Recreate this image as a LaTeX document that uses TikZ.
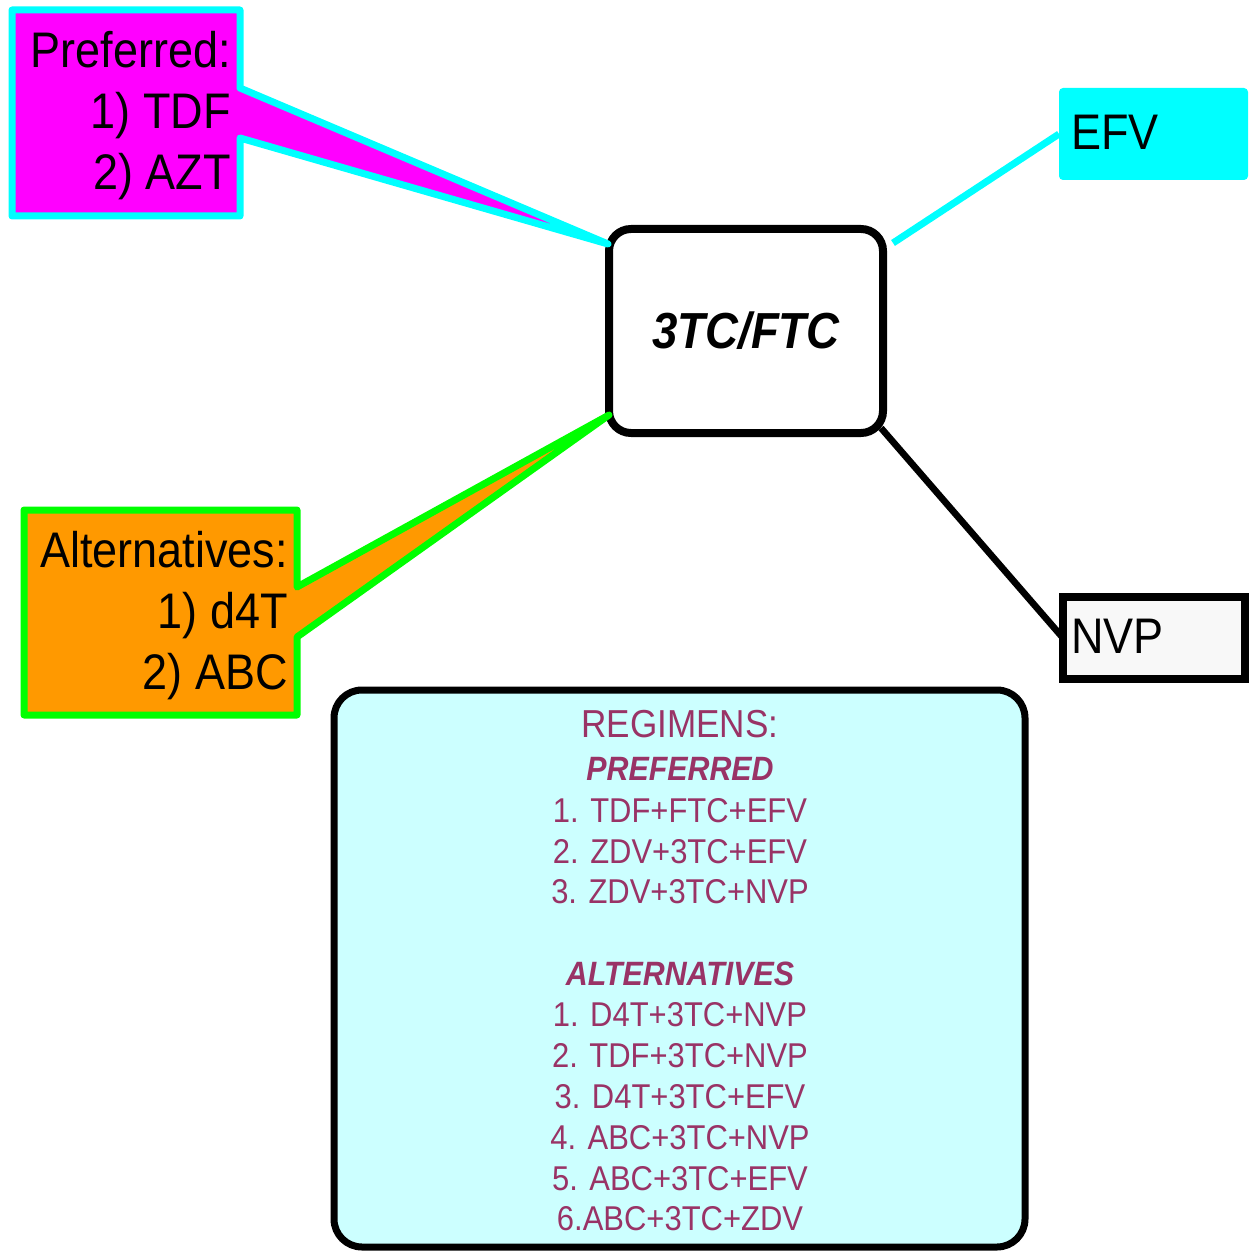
\documentclass[tikz,border=0pt]{standalone}
\usepackage{fontspec}
\setmainfont[FakeStretch=0.9]{Liberation Sans}
\usetikzlibrary{calc}
\definecolor{cMag}{HTML}{FF00FF}
\definecolor{cCyan}{HTML}{00FFFF}
\definecolor{cGreen}{HTML}{00FF00}
\definecolor{cOrange}{HTML}{FF9900}
\definecolor{cReg}{HTML}{CCFFFF}
\definecolor{cText}{HTML}{993366}
\definecolor{cNvp}{HTML}{F8F8F8}
\begin{document}
\begin{tikzpicture}[x=0.75pt,y=-0.75pt,
  hubbox/.style={draw=black, line width=6pt, fill=white, rounded corners=16.5pt,
    minimum width=205.5pt, minimum height=153pt, inner sep=0pt, outer sep=0pt,
    font=\fontsize{38}{44}\selectfont\bfseries\itshape},
  efvbox/.style={fill=cCyan, rounded corners=3pt, minimum width=141.75pt,
    minimum height=69pt, inner sep=0pt, outer sep=0pt},
  nvpbox/.style={draw=black, line width=6pt, fill=cNvp, minimum width=136.5pt,
    minimum height=61.5pt, inner sep=0pt, outer sep=0pt},
  regbox/.style={draw=black, line width=5.25pt, fill=cReg, rounded corners=21pt,
    minimum width=518.25pt, minimum height=417.75pt, inner sep=0pt, outer sep=0pt},
  prefcall/.style={draw=cCyan, fill=cMag, line width=5.25pt, line join=round},
  altcall/.style={draw=cGreen, fill=cOrange, line width=5.25pt, line join=round},
  calltext/.style={font=\fontsize{37.5}{45}\selectfont, inner sep=0pt, anchor=base east},
  boxtext/.style={font=\fontsize{37.5}{45}\selectfont, inner sep=0pt, anchor=base west},
  regline/.style={font=\fontsize{25.8}{30}\selectfont, text=cText, inner sep=0pt, anchor=base},
  reghead/.style={font=\fontsize{29.25}{34}\selectfont, text=cText, inner sep=0pt, anchor=base},
  regsub/.style={font=\fontsize{25.3}{30}\selectfont\bfseries\itshape, text=cText, inner sep=0pt, anchor=base},
  efvlink/.style={draw=cCyan, line width=5.25pt},
  nvplink/.style={draw=black, line width=5pt}
]
\useasboundingbox (0,0) rectangle (1249,1251);

% hub and satellite boxes
\node[hubbox] (hub) at (746,331) {3TC/FTC};
\node[efvbox] (efv) at (1153.5,134) {};
\node[nvpbox] (nvp) at (1154,638) {};
\node[boxtext] (efvlabel) at (1071,150) {EFV};
\node[boxtext] (nvplabel) at (1071,653) {NVP};

% connectors
\draw[efvlink] ([shift={(10,14)}]hub.north east) -- (efv.west);
\draw[nvplink] ([shift={(-2,-5)}]hub.south east) -- (nvp.west);

% callouts
\coordinate (ptip) at ([shift={(-1,15)}]hub.north west);
\coordinate (atip) at ([shift={(0,-18)}]hub.south west);
\draw[prefcall] (12,10) -- (240,10) -- (240,88) -- (ptip) -- (240,138) -- (240,216) -- (12,216) -- cycle;
\draw[altcall] (24,510) -- (297,510) -- (297,587) -- (atip) -- (297,637) -- (297,715) -- (24,715) -- cycle;

\node[calltext] (pref1) at (231,68) {Preferred:};
\node[calltext] (pref2) at (231,129) {1) TDF};
\node[calltext] (pref3) at (231,190) {2) AZT};
\node[calltext] (alt1) at (288,567) {Alternatives:};
\node[calltext] (alt2) at (288,628) {1) d4T};
\node[calltext] (alt3) at (288,689) {2) ABC};

% regimens box
\node[regbox] (reg) at (679.5,968.5) {};
\node[reghead] (rhead) at (680,737) {REGIMENS:};
\node[regsub] (rpref) at (680,780) {PREFERRED};
\node[regline] (rp1) at (680,822) {1. TDF+FTC+EFV};
\node[regline] (rp2) at (680,863) {2. ZDV+3TC+EFV};
\node[regline] (rp3) at (680,903) {3. ZDV+3TC+NVP};
\node[regsub] (ralt) at (680,985) {ALTERNATIVES};
\node[regline] (ra1) at (680,1026) {1. D4T+3TC+NVP};
\node[regline] (ra2) at (680,1067) {2. TDF+3TC+NVP};
\node[regline] (ra3) at (680,1108) {3. D4T+3TC+EFV};
\node[regline] (ra4) at (680,1149) {4. ABC+3TC+NVP};
\node[regline] (ra5) at (680,1190) {5. ABC+3TC+EFV};
\node[regline] (ra6) at (680,1230) {6.ABC+3TC+ZDV};
\end{tikzpicture}
\end{document}
